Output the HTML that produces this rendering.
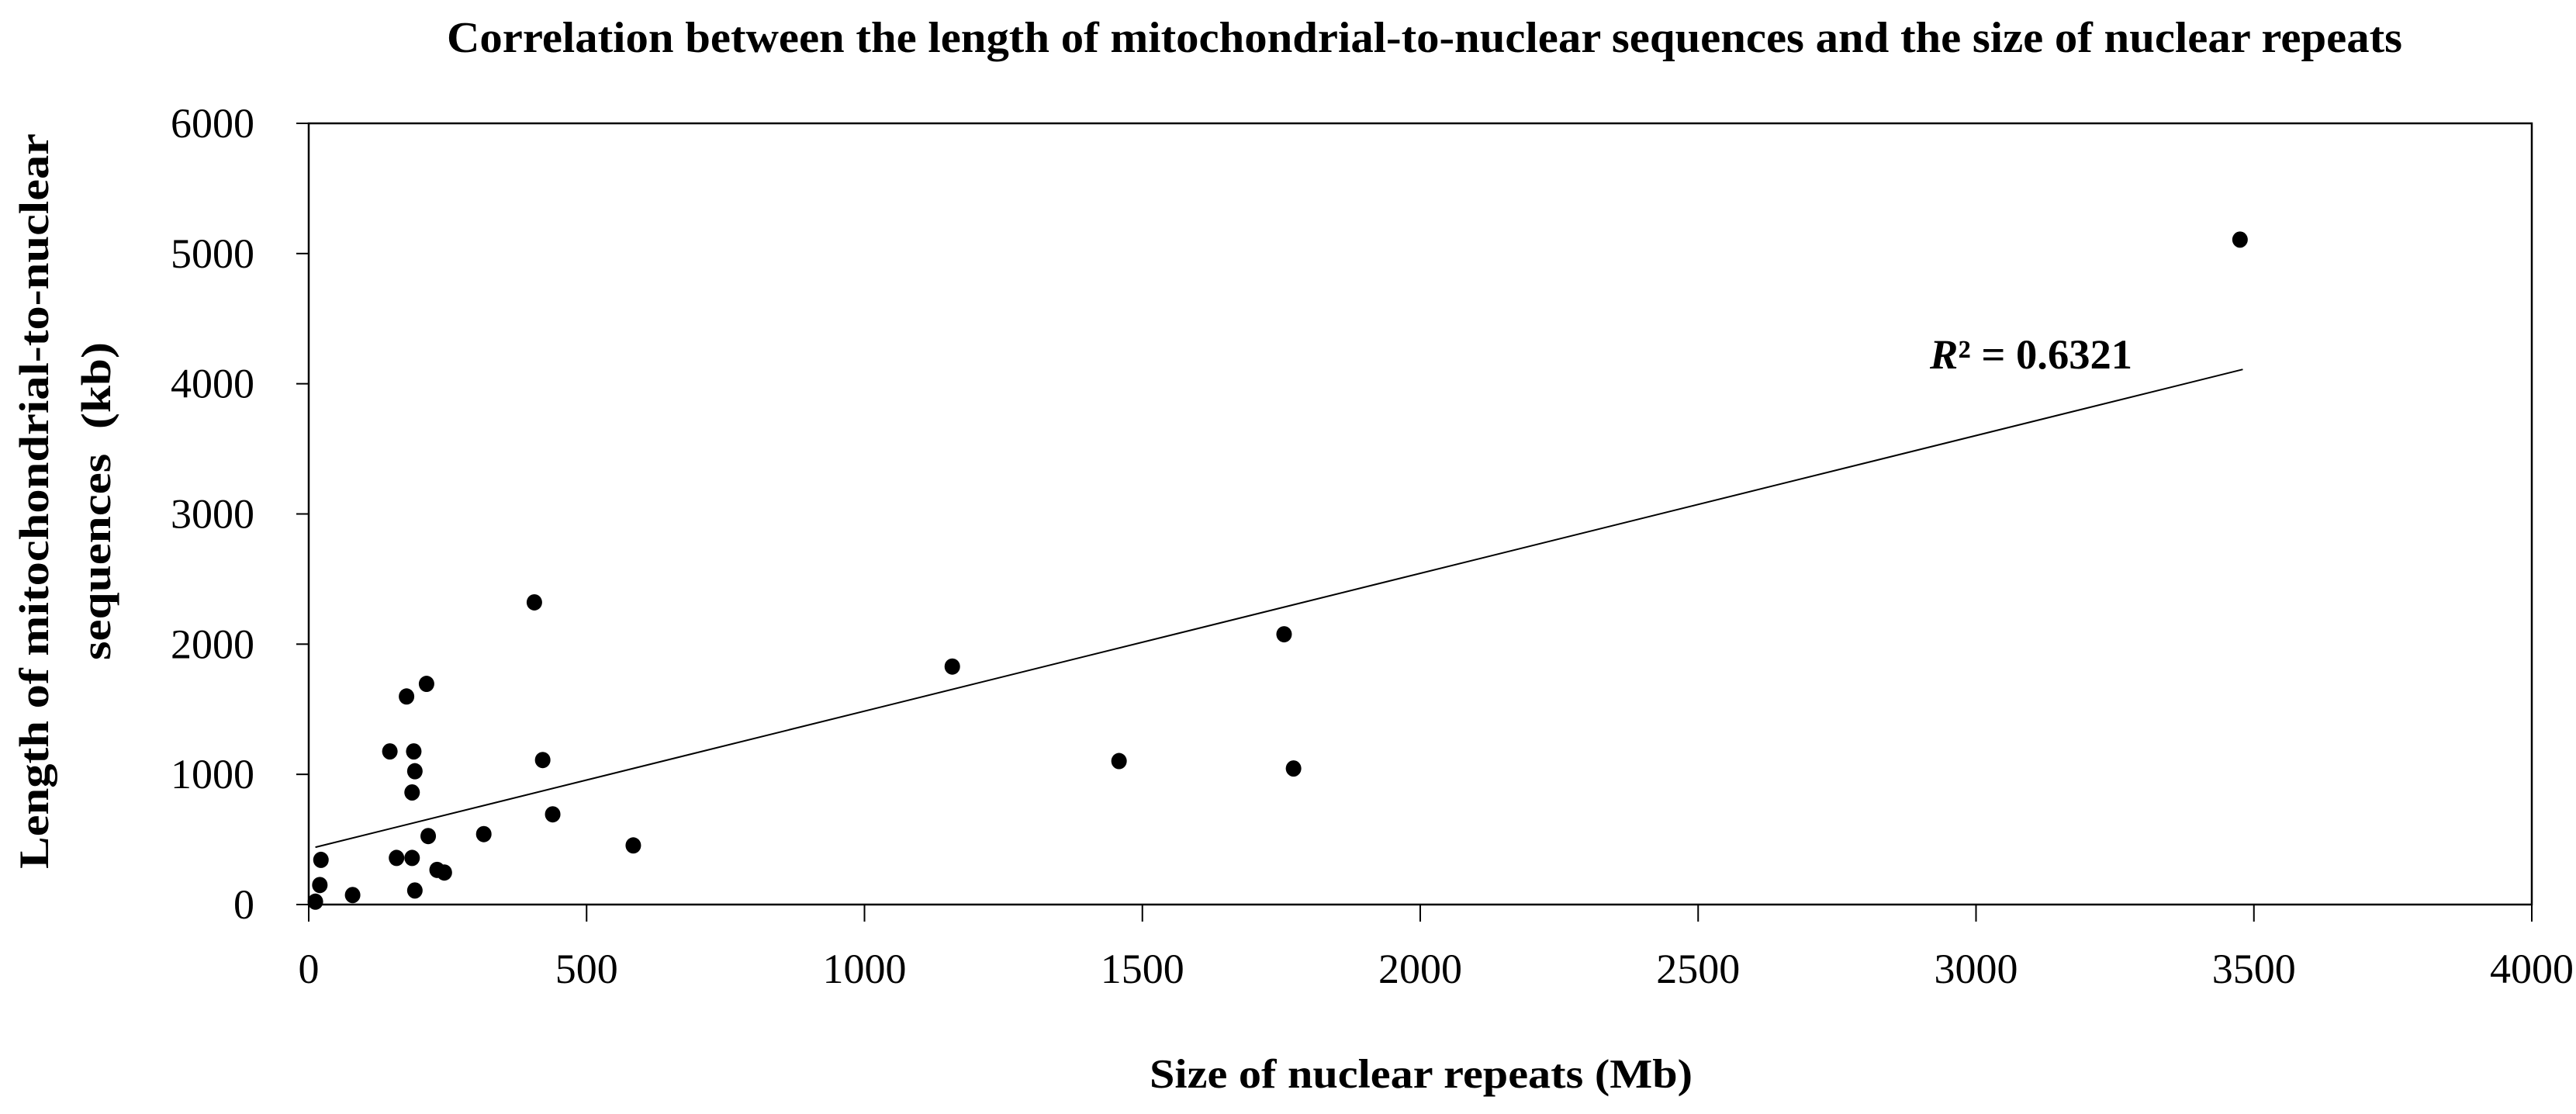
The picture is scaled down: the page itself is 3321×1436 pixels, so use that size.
<!DOCTYPE html>
<html><head><meta charset="utf-8"><style>
html,body{margin:0;padding:0;background:#fff;}
svg{display:block;font-family:"Liberation Serif",serif;}
</style></head><body>
<svg id="chart" width="3321" height="1436" viewBox="0 0 3321 1436" xmlns="http://www.w3.org/2000/svg">
<text x="576" y="67" font-size="56" font-weight="bold" textLength="2521" lengthAdjust="spacingAndGlyphs">Correlation between the length of mitochondrial-to-nuclear sequences and the size of nuclear repeats</text>
<rect x="398" y="159" width="2866" height="1007" fill="none" stroke="#000" stroke-width="2.5"/>
<g id="yticks"></g><g id="xticks"></g>
<line id="trend" stroke="#000" stroke-width="2"/>
<g id="points"></g>
<text x="2488" y="475" font-size="54" font-weight="bold" textLength="261" lengthAdjust="spacingAndGlyphs"><tspan font-style="italic">R</tspan>² = 0.6321</text>
<text x="1482" y="1402" font-size="53" font-weight="bold" textLength="700" lengthAdjust="spacingAndGlyphs">Size of nuclear repeats (Mb)</text>
<text transform="translate(62,646) rotate(-90)" text-anchor="middle" font-size="54" font-weight="bold" textLength="948" lengthAdjust="spacingAndGlyphs">Length of mitochondrial-to-nuclear</text>
<text transform="translate(142,646) rotate(-90)" text-anchor="middle" font-size="54" font-weight="bold" textLength="410" lengthAdjust="spacingAndGlyphs" xml:space="preserve">sequences  (kb)</text>
</svg>
<script>
const xTicks = [0, 500, 1000, 1500, 2000, 2500, 3000, 3500, 4000];
const yTicks = [0, 1000, 2000, 3000, 4000, 5000, 6000];
const repeatsMb = [12, 22, 20, 79, 146, 176, 212, 189, 191, 186, 215, 158, 186, 191, 231, 244, 315, 406, 421, 439, 584, 1158, 1458, 1755, 1772, 3475];
const lengthKb = [22, 343, 150, 73, 1176, 1598, 1695, 1176, 1024, 861, 526, 358, 358, 108, 266, 246, 541, 2321, 1110, 693, 454, 1828, 1102, 2076, 1045, 5107];
const trendStart = [12, 440];
const trendEnd = [3480, 4110];

const NS = "http://www.w3.org/2000/svg";
const L = 398, R = 3264, T = 159, B = 1166;
const xS = v => L + (v / 4000) * (R - L);
const yS = v => B - (v / 6000) * (B - T);
function mk(tag, attrs, parent) {
  const e = document.createElementNS(NS, tag);
  for (const k in attrs) e.setAttribute(k, attrs[k]);
  parent.appendChild(e);
  return e;
}
const yg = document.getElementById('yticks');
yTicks.forEach(v => {
  const ln = mk('line', {x1: L - 16, x2: L, y1: yS(v), y2: yS(v), stroke: '#000', 'stroke-width': 2}, yg);
  
  
  const t = mk('text', {x: 328, y: yS(v) + 18, 'text-anchor': 'end', 'font-size': 54}, yg);
  t.textContent = v;
  
  
});
const xg = document.getElementById('xticks');
xTicks.forEach(v => {
  const ln = mk('line', {x1: xS(v), x2: xS(v), y1: B, y2: B + 22, stroke: '#000', 'stroke-width': 2}, xg);
  
  
  const t = mk('text', {x: xS(v), y: 1267, 'text-anchor': 'middle', 'font-size': 54}, xg);
  t.textContent = v;
  
  
});
const tr = document.getElementById('trend');
tr.setAttribute('x1', xS(trendStart[0])); tr.setAttribute('y1', yS(trendStart[1]));
tr.setAttribute('x2', xS(trendEnd[0])); tr.setAttribute('y2', yS(trendEnd[1]));
const pg = document.getElementById('points');
repeatsMb.forEach((x, i) => {
  const c = mk('ellipse', {cx: xS(x), cy: yS(lengthKb[i]), rx: 10, ry: 10.5, fill: '#000'}, pg);
  
  
});
</script>
</body></html>
